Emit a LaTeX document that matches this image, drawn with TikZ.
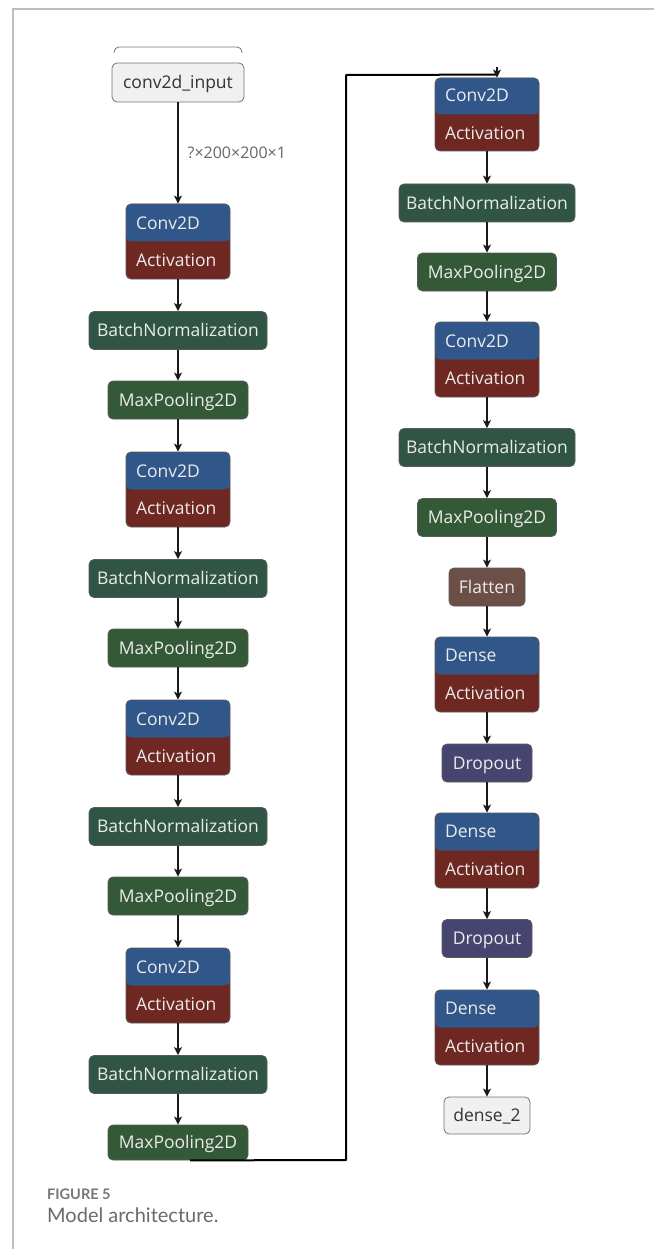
\documentclass[tikz,border=0pt]{standalone}
\usepackage{fontspec}
\setmainfont{Open Sans}
\newfontfamily\capfont{Lato}
\usetikzlibrary{arrows.meta,calc}
\definecolor{convblue}{RGB}{49,86,138}
\definecolor{actred}{RGB}{110,40,33}
\definecolor{bngreen}{RGB}{49,85,68}
\definecolor{poolgreen}{RGB}{52,89,54}
\definecolor{flatbrown}{RGB}{108,79,71}
\definecolor{droppurple}{RGB}{70,69,112}
\definecolor{iogray}{RGB}{240,240,240}
\definecolor{framegray}{RGB}{190,190,190}
\definecolor{capgray}{RGB}{118,118,118}

\begin{document}
\begin{tikzpicture}[x=1pt,y=-1pt,>={Stealth[length=8pt,width=8pt,inset=2pt]},
  layer/.style={draw=black!65,line width=0.8pt,rounded corners=5pt,inner sep=0pt,
    text=white!92!black,font=\fontsize{17.5}{20}\selectfont},
  single/.style={layer,minimum height=38pt,text height=12.5pt,text depth=0pt},
  twin/.style={layer,fill=actred,minimum width=104pt,minimum height=75pt,
    text width=84pt,align=left,font=\fontsize{17.5}{37.5}\selectfont,
    path picture={\fill[convblue] (path picture bounding box.north west) rectangle (path picture bounding box.east);}},
  bn/.style={single,fill=bngreen,minimum width=178pt},
  pool/.style={single,fill=poolgreen,minimum width=140pt},
  flat/.style={single,fill=flatbrown,minimum width=76pt},
  drop/.style={single,fill=droppurple,minimum width=90pt},
  iobox/.style={single,fill=iogray,draw=black!55,text=black!80},
  flow/.style={line width=1.3pt,black!90},
  link/.style={line width=2pt,black,line join=round}]
  \useasboundingbox (0,0) rectangle (654,1249);
  \draw[framegray,line width=1.2pt] (13,1249) -- (13,9) -- (654,9);

  % left column
  \draw[black!55,line width=0.8pt,rounded corners=5pt] (114,53) -- (114,47) -- (242,47) -- (242,53);
  \node[iobox,minimum width=132pt,minimum height=39pt] (in) at (178,82.5) {conv2d\_input};
  \node[twin] (c1) at (178,241.5) {Conv2D\\Activation};
  \node[bn] (bn1) at (178,330.5) {BatchNormalization};
  \node[pool] (mp1) at (178,400) {MaxPooling2D};
  \node[twin] (c2) at (178,489.5) {Conv2D\\Activation};
  \node[bn] (bn2) at (178,578.5) {BatchNormalization};
  \node[pool] (mp2) at (178,648) {MaxPooling2D};
  \node[twin] (c3) at (178,737.5) {Conv2D\\Activation};
  \node[bn] (bn3) at (178,826.5) {BatchNormalization};
  \node[pool] (mp3) at (178,896) {MaxPooling2D};
  \node[twin] (c4) at (178,985.5) {Conv2D\\Activation};
  \node[bn] (bn4) at (178,1074.5) {BatchNormalization};
  \node[pool,minimum height=35pt] (mp4) at (178,1142.5) {MaxPooling2D};

  % right column
  \node[twin,minimum height=73pt] (c5) at (487,114.5) {Conv2D\\Activation};
  \node[bn,minimum width=176pt] (bn5) at (487,203) {BatchNormalization};
  \node[pool,minimum width=139pt] (mp5) at (487,272) {MaxPooling2D};
  \node[twin] (c6) at (487,359.5) {Conv2D\\Activation};
  \node[bn,minimum width=176pt] (bn6) at (487,447.5) {BatchNormalization};
  \node[pool,minimum width=139pt] (mp6) at (487,517.5) {MaxPooling2D};
  \node[flat] (fl) at (487,587) {Flatten};
  \node[twin] (d1) at (487,674.5) {Dense\\Activation};
  \node[drop] (dr1) at (487,763) {Dropout};
  \node[twin] (d2) at (487,850.5) {Dense\\Activation};
  \node[drop] (dr2) at (487,938.5) {Dropout};
  \node[twin] (d3) at (487,1027.5) {Dense\\Activation};
  \node[iobox,minimum width=86pt,minimum height=37pt] (out) at (487,1115.5) {dense\_2};

  % edges
  \draw[->,flow] (in) -- (c1) node[midway,anchor=west,xshift=9pt,text=black!60,
    font=\fontsize{16}{18}\selectfont,inner sep=0pt] (shape) {?×200×200×1};
  \foreach \a/\b in {c1/bn1,bn1/mp1,mp1/c2,c2/bn2,bn2/mp2,mp2/c3,c3/bn3,bn3/mp3,mp3/c4,c4/bn4,bn4/mp4,
    c5/bn5,bn5/mp5,mp5/c6,c6/bn6,bn6/mp6,mp6/fl,fl/d1,d1/dr1,dr1/d2,d2/dr2,dr2/d3,d3/out}
    \draw[->,flow] (\a.south) -- (\b.north);

  \coordinate (bendlow) at (346,1160);
  \coordinate (bendhigh) at (346,75);
  \coordinate (entry) at ([xshift=10pt,yshift=3pt]c5.north);
  \draw[link] ([xshift=12pt]mp4.south) -- (bendlow) -- (bendhigh) -- (entry);
  \draw[->,flow] ([yshift=8pt]entry) -- ([xshift=10pt]c5.north);

  % caption
  \node[anchor=base west,inner sep=0pt,text=capgray,font=\capfont\bfseries\fontsize{14.5}{16}\selectfont] (fig) at (47,1199) {FIGURE 5};
  \node[anchor=base west,inner sep=0pt,text=capgray!90!black,font=\capfont\fontsize{20}{22}\selectfont] (cap) at (47,1222) {Model architecture.};
\end{tikzpicture}
\end{document}
